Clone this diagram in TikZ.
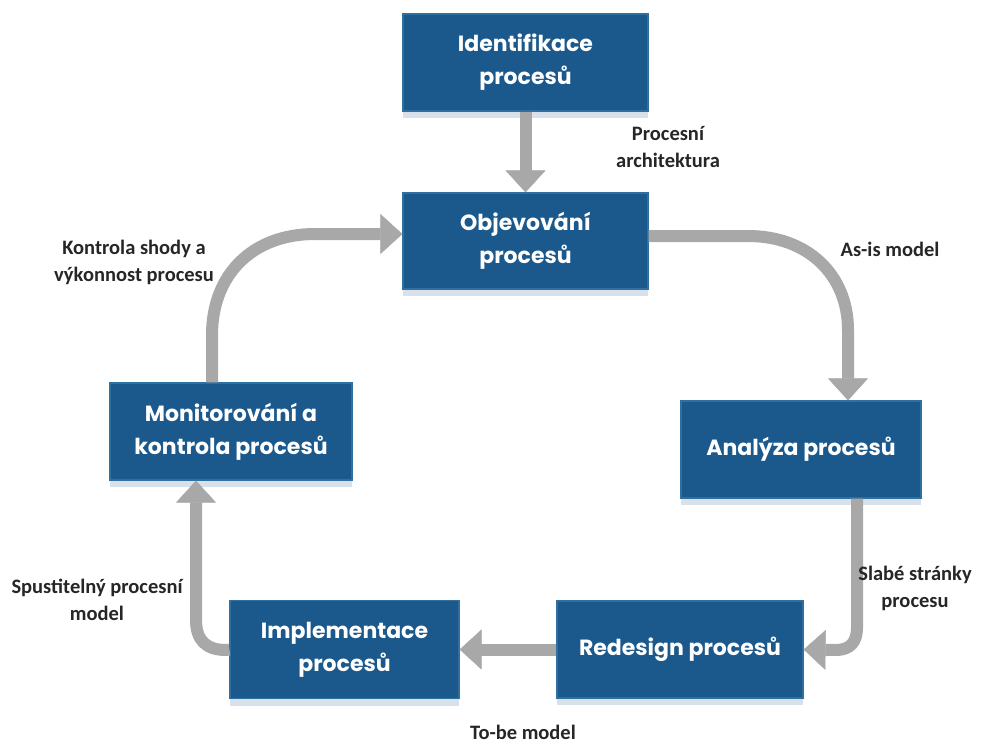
\documentclass[tikz,border=0pt]{standalone}
\usepackage{fontspec}
\setmainfont{Carlito}
\newfontfamily\boxfont{Poppins}
\usetikzlibrary{arrows.meta,shadows}
\definecolor{boxblue}{RGB}{27,89,140}
\definecolor{boxedge}{RGB}{48,112,160}
\definecolor{shadowc}{RGB}{200,212,226}
\definecolor{arrowgray}{RGB}{168,168,168}
\begin{document}
\begin{tikzpicture}[x=1pt,y=-1pt,
  procbox/.style={draw=boxedge, line width=1.2pt, fill=boxblue, text=white,
    font=\boxfont\bfseries\fontsize{22}{33}\selectfont, align=center, inner sep=0pt,
    drop shadow={shadow xshift=0pt, shadow yshift=-7pt, fill=shadowc, opacity=0.7}},
  lbl/.style={font=\bfseries\fontsize{20.5}{27}\selectfont, align=center, text=black!85},
  bigarrow/.style={draw=arrowgray, line width=12pt,
    -{Triangle[length=22pt, width=40pt, line width=0.5pt]}}]
\useasboundingbox (0,0) rectangle (999,745);
\fill[white] (0,0) rectangle (999,745);
% boxes
\node[procbox, minimum width=245pt, minimum height=97pt] (ident) at (525.5,62.5) {Identifikace\\procesů};
\node[procbox, minimum width=245pt, minimum height=96pt] (objev) at (525.5,241) {Objevování\\procesů};
\node[procbox, minimum width=242pt, minimum height=97pt] (mon) at (231,431.5) {Monitorování a\\kontrola procesů};
\node[procbox, minimum width=240pt, minimum height=97pt] (ana) at (801,449.5) {Analýza procesů};
\node[procbox, minimum width=246pt, minimum height=97pt] (red) at (680,649.5) {Redesign procesů};
\node[procbox, minimum width=229pt, minimum height=98pt] (impl) at (344.5,649.5) {Implementace\\procesů};
% connectors
\draw[bigarrow] (ident.south) -- (objev.north);
\draw[bigarrow] ([xshift=-19pt]mon.north) -- (212,335)
  .. controls (212,275) and (252,234) .. (315,234) -- ([yshift=7pt]objev.west);
\draw[bigarrow] ([yshift=5pt]objev.east) -- (748,236)
  .. controls (808,236) and (848,275) .. (848,330) -- ([xshift=47pt]ana.north);
\draw[bigarrow] ([xshift=56pt]ana.south) -- (857,628)
  .. controls (857,642) and (850,650) .. (836,650) -- (red.east);
\draw[bigarrow] (red.west) -- (impl.east);
\draw[bigarrow] (impl.west) -- (226,650)
  .. controls (206,650) and (196,640) .. (196,620) -- ([xshift=-35pt]mon.south);
% labels
\node[lbl] (l1) at (668,147) {Procesní\\architektura};
\node[lbl] (l2) at (134,262) {Kontrola shody a\\výkonnost procesu};
\node[lbl] (l3) at (890,249) {As-is model};
\node[lbl] (l4) at (915,588) {Slabé stránky\\procesu};
\node[lbl] (l5) at (97,600) {Spustitelný procesní\\model};
\node[lbl] (l6) at (523,732) {To-be model};
\end{tikzpicture}
\end{document}
